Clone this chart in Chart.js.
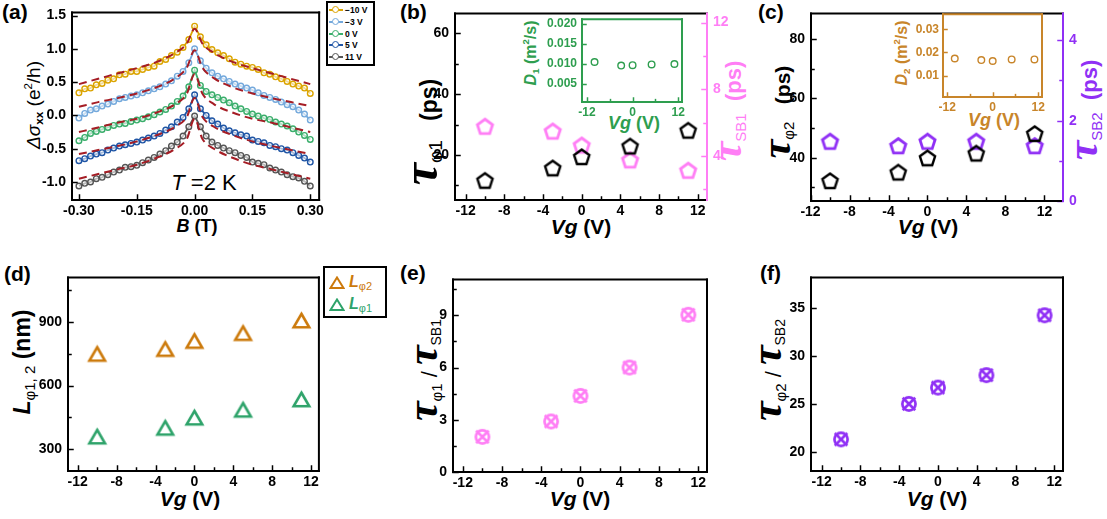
<!DOCTYPE html>
<html>
<head>
<meta charset="utf-8">
<script src="https://cdn.jsdelivr.net/npm/chart.js@4.4.1/dist/chart.umd.min.js"></script>
<style>
  body { margin: 0; background: #fff; }
  #wrap { position: relative; width: 1107px; height: 519px; overflow: hidden; font-family: "Liberation Sans", Arial, sans-serif; }
  canvas { position: absolute; }
  .t { position: absolute; white-space: nowrap; font-weight: bold; line-height: 1; }
  .c { transform: translate(-50%, -50%); }
  .rot { transform: translate(-50%, -50%) rotate(-90deg); }
  .tau { font-family: "Liberation Serif", "DejaVu Serif", serif; font-style: italic; font-weight: bold; font-size: 42px; line-height: 0.6; }
  .sub { font-size: 0.62em; vertical-align: -0.3em; font-weight: normal; }
  .vg { font-style: italic; }
  .box { position: absolute; border: 2px solid #000; box-sizing: border-box; background: #fff; }
</style>
</head>
<body>
<div id="wrap">

  <!-- panel labels -->
  <div class="t" style="left:2px;top:1px;font-size:21px">(a)</div>
  <div class="t" style="left:400px;top:1px;font-size:21px">(b)</div>
  <div class="t" style="left:758px;top:1px;font-size:21px">(c)</div>
  <div class="t" style="left:4px;top:263px;font-size:21px">(d)</div>
  <div class="t" style="left:400px;top:262px;font-size:21px">(e)</div>
  <div class="t" style="left:760px;top:262px;font-size:21px">(f)</div>

  <!-- (a) -->
  <div class="t rot" style="left:34px;top:105px;font-size:19px;font-weight:normal"><i>Δσ</i><span class="sub" style="font-weight:bold">xx</span> (e<sup style="font-size:0.6em">2</sup>/h)</div>
  <div class="t c" style="left:197px;top:226px;font-size:18px"><i>B</i> (T)</div>
  <div class="t c" style="left:204px;top:183px;font-size:22px;font-weight:normal"><i>T</i> =2 K</div>
  <div class="box" style="left:326px;top:1px;width:49px;height:65px">
    <div style="position:absolute;left:1px;top:6px;width:14px;border-top:2px solid #dba400"></div>
    <div style="position:absolute;left:4px;top:3px;width:5px;height:5px;border:1.5px solid #dba400;border-radius:50%;background:#fff"></div>
    <div class="t" style="left:17px;top:3px;font-size:8.5px">−10 V</div>
    <div style="position:absolute;left:1px;top:18px;width:14px;border-top:2px solid #74a9dc"></div>
    <div style="position:absolute;left:4px;top:15px;width:5px;height:5px;border:1.5px solid #74a9dc;border-radius:50%;background:#fff"></div>
    <div class="t" style="left:17px;top:15px;font-size:8.5px">−3 V</div>
    <div style="position:absolute;left:1px;top:30px;width:14px;border-top:2px solid #3aae6b"></div>
    <div style="position:absolute;left:4px;top:27px;width:5px;height:5px;border:1.5px solid #3aae6b;border-radius:50%;background:#fff"></div>
    <div class="t" style="left:17px;top:27px;font-size:8.5px">0 V</div>
    <div style="position:absolute;left:1px;top:41px;width:14px;border-top:2px solid #1f55a5"></div>
    <div style="position:absolute;left:4px;top:38px;width:5px;height:5px;border:1.5px solid #1f55a5;border-radius:50%;background:#fff"></div>
    <div class="t" style="left:17px;top:38px;font-size:8.5px">5 V</div>
    <div style="position:absolute;left:1px;top:53px;width:14px;border-top:2px solid #555"></div>
    <div style="position:absolute;left:4px;top:50px;width:5px;height:5px;border:1.5px solid #555;border-radius:50%;background:#fff"></div>
    <div class="t" style="left:17px;top:50px;font-size:8.5px">11 V</div>
  </div>

  <!-- (b) -->
  <div class="t rot" style="left:425px;top:132px;font-size:23px"><span class="tau" style="font-size:50px">τ</span><span class="sub" style="font-size:19px">φ1</span>&nbsp;&nbsp; (ps)</div>
  <div class="t rot" style="left:731px;top:111px;font-size:22px;color:#ff7ef5"><span class="tau" style="font-size:44px">τ</span><span class="sub" style="font-size:15px">SB1</span>&nbsp; (ps)</div>
  <div class="t c" style="left:581px;top:226px;font-size:21px"><span class="vg">Vg</span> (V)</div>
  <div class="t rot" style="left:531px;top:53px;font-size:16px;color:#2e9e4f"><i>D</i><span class="sub" style="font-weight:bold">1</span> (m<sup style="font-size:0.6em">2</sup>/s)</div>
  <div class="t c" style="left:634px;top:123px;font-size:18px;color:#2e9e4f"><span class="vg">Vg</span> (V)</div>

  <!-- (c) -->
  <div class="t rot" style="left:780px;top:112px;font-size:21px"><span class="tau">τ</span><span class="sub" style="font-size:15px">φ2</span>&nbsp;&nbsp; (ps)</div>
  <div class="t rot" style="left:1087px;top:110px;font-size:22px;color:#9030f5"><span class="tau" style="font-size:44px">τ</span><span class="sub" style="font-size:15px">SB2</span>&nbsp; (ps)</div>
  <div class="t c" style="left:928px;top:226px;font-size:21px"><span class="vg">Vg</span> (V)</div>
  <div class="t rot" style="left:902px;top:53px;font-size:16px;color:#c8852a"><i>D</i><span class="sub" style="font-weight:bold">2</span> (m<sup style="font-size:0.6em">2</sup>/s)</div>
  <div class="t c" style="left:994px;top:120px;font-size:18px;color:#c8852a"><span class="vg">Vg</span> (V)</div>

  <!-- (d) -->
  <div class="t rot" style="left:24px;top:362px;font-size:23px"><i>L</i><span class="sub" style="font-size:15px">φ1, 2</span> (nm)</div>
  <div class="t c" style="left:190px;top:498px;font-size:21px"><span class="vg">Vg</span> (V)</div>
  <div class="box" style="left:323px;top:266px;width:64px;height:52px">
    <svg style="position:absolute;left:4px;top:8px" width="16" height="14"><polygon points="8,1.5 14.5,12 1.5,12" fill="none" stroke="#cc7a0c" stroke-width="2"/></svg>
    <div class="t" style="left:24px;top:6px;font-size:16px;color:#cc7a0c"><i>L</i><span class="sub" style="font-size:11px">φ2</span></div>
    <svg style="position:absolute;left:4px;top:30px" width="16" height="14"><polygon points="8,1.5 14.5,12 1.5,12" fill="none" stroke="#2ea36a" stroke-width="2"/></svg>
    <div class="t" style="left:24px;top:28px;font-size:16px;color:#2ea36a"><i>L</i><span class="sub" style="font-size:11px">φ1</span></div>
  </div>

  <!-- (e) -->
  <div class="t rot" style="left:427px;top:370px;font-size:22px"><span class="tau" style="font-size:44px">τ</span><span class="sub" style="font-size:15px">φ1</span> <span style="font-weight:normal">/</span> <span class="tau" style="font-size:44px">τ</span><span class="sub" style="font-size:14px">SB1</span></div>
  <div class="t c" style="left:580px;top:498px;font-size:21px"><span class="vg">Vg</span> (V)</div>

  <!-- (f) -->
  <div class="t rot" style="left:771px;top:370px;font-size:22px"><span class="tau" style="font-size:44px">τ</span><span class="sub" style="font-size:15px">φ2</span> <span style="font-weight:normal">/</span> <span class="tau" style="font-size:44px">τ</span><span class="sub" style="font-size:14px">SB2</span></div>
  <div class="t c" style="left:937px;top:498px;font-size:21px"><span class="vg">Vg</span> (V)</div>
</div>

<script>
// ---- data ----
// (a) magnetoconductance, B in T
const B = [-0.300,-0.285,-0.270,-0.255,-0.240,-0.225,-0.210,-0.195,-0.180,-0.165,-0.150,-0.135,-0.120,-0.105,-0.090,-0.075,-0.060,-0.045,-0.030,-0.015,0.000,
           0.015,0.030,0.045,0.060,0.075,0.090,0.105,0.120,0.135,0.150,0.165,0.180,0.195,0.210,0.225,0.240,0.255,0.270,0.285,0.300];
const sigM10 = [0.34,0.40,0.41,0.46,0.48,0.53,0.55,0.61,0.62,0.66,0.66,0.69,0.72,0.74,0.81,0.84,0.90,0.95,1.02,1.14,1.34,
                1.18,1.06,0.99,0.94,0.90,0.85,0.80,0.77,0.74,0.72,0.69,0.64,0.62,0.58,0.55,0.51,0.47,0.44,0.41,0.33];
const sigM3 = [-0.04,0.03,0.08,0.10,0.14,0.17,0.21,0.25,0.27,0.29,0.31,0.34,0.37,0.40,0.43,0.47,0.52,0.59,0.66,0.79,1.00,
               0.82,0.71,0.64,0.59,0.55,0.51,0.47,0.44,0.41,0.38,0.34,0.30,0.27,0.24,0.20,0.16,0.13,0.08,0.02,-0.07];
const sig0 = [-0.38,-0.33,-0.27,-0.24,-0.21,-0.18,-0.15,-0.13,-0.12,-0.09,-0.07,-0.05,-0.02,0.01,0.05,0.09,0.14,0.21,0.29,0.43,0.68,
              0.45,0.36,0.31,0.27,0.23,0.19,0.14,0.10,0.06,0.02,-0.01,-0.04,-0.06,-0.10,-0.13,-0.16,-0.20,-0.25,-0.30,-0.36];
const sig5 = [-0.68,-0.65,-0.61,-0.58,-0.56,-0.52,-0.49,-0.46,-0.44,-0.42,-0.40,-0.37,-0.34,-0.31,-0.27,-0.22,-0.17,-0.10,-0.03,0.10,0.31,
              0.10,0.00,-0.08,-0.13,-0.19,-0.23,-0.26,-0.29,-0.31,-0.37,-0.39,-0.41,-0.45,-0.47,-0.50,-0.52,-0.56,-0.60,-0.64,-0.70];
const sig11 = [-1.06,-1.02,-1.00,-0.95,-0.93,-0.89,-0.85,-0.82,-0.78,-0.77,-0.75,-0.71,-0.67,-0.63,-0.58,-0.53,-0.46,-0.40,-0.31,-0.17,-0.01,
               -0.17,-0.31,-0.40,-0.45,-0.49,-0.53,-0.56,-0.60,-0.63,-0.70,-0.72,-0.74,-0.79,-0.82,-0.85,-0.89,-0.92,-0.94,-0.99,-1.06];
const Bfit = [-0.30,-0.25,-0.20,-0.15,-0.10,-0.05,-0.02,0,0.02,0.05,0.10,0.15,0.20,0.25,0.30];
const fitM10 = [0.47,0.55,0.63,0.71,0.80,0.94,1.08,1.30,1.08,0.94,0.80,0.71,0.63,0.55,0.47];
const fitM3 = [0.13,0.20,0.26,0.33,0.42,0.56,0.72,0.98,0.72,0.56,0.42,0.33,0.26,0.20,0.14];
const fit0 = [-0.25,-0.18,-0.11,-0.05,0.04,0.17,0.33,0.62,0.33,0.17,0.04,-0.05,-0.11,-0.18,-0.25];
const fit5 = [-0.58,-0.52,-0.46,-0.39,-0.30,-0.17,-0.02,0.26,-0.02,-0.17,-0.30,-0.39,-0.46,-0.52,-0.58];
const fit11 = [-0.95,-0.88,-0.81,-0.74,-0.64,-0.50,-0.35,-0.05,-0.35,-0.50,-0.64,-0.74,-0.81,-0.88,-0.95];

// gate voltages and fitted parameters
const Vg = [-10, -3, 0, 5, 11];
const tauPhi1 = [11.7, 15.8, 19.5, 23.0, 28.2];
const tauSB1 = [5.79, 5.50, 4.66, 3.77, 3.15];
const D1 = [0.0104, 0.0095, 0.0096, 0.0098, 0.0099];
const tauPhi2 = [32.3, 35.2, 40.0, 41.6, 48.2];
const tauSB2 = [1.49, 1.38, 1.49, 1.49, 1.38];
const D2 = [0.0174, 0.0167, 0.0163, 0.0170, 0.0170];
const Lphi2 = [749, 772, 810, 847, 906];
const Lphi1 = [360, 401, 449, 486, 535];
const ratio1 = [2.02, 2.90, 4.37, 6.00, 9.03];
const ratio2 = [21.3, 25.0, 26.7, 28.0, 34.25];

// tick values
const vgMajor = [-12, -8, -4, 0, 4, 8, 12];
const vgMinor = [-10, -6, -2, 2, 6, 10];

const SANS = '"Liberation Sans", Arial, sans-serif';
const specs = {};

// ---- marker images ----
function pentagon(r, color, lw) {
  const s = Math.ceil(2 * r + lw + 4);
  const c = document.createElement('canvas');
  c.width = c.height = s;
  const g = c.getContext('2d');
  g.strokeStyle = color; g.lineWidth = lw; g.lineJoin = 'miter';
  g.beginPath();
  for (let k = 0; k < 5; k++) {
    const a = -Math.PI / 2 + k * 2 * Math.PI / 5;
    const x = s / 2 + r * Math.cos(a), y = s / 2 + 1 + r * Math.sin(a);
    k ? g.lineTo(x, y) : g.moveTo(x, y);
  }
  g.closePath(); g.stroke();
  return c;
}
function triangle(r, color, lw) {
  const s = Math.ceil(2 * r + lw + 4);
  const c = document.createElement('canvas');
  c.width = c.height = s;
  const g = c.getContext('2d');
  g.strokeStyle = color; g.lineWidth = lw;
  g.beginPath();
  for (let k = 0; k < 3; k++) {
    const a = -Math.PI / 2 + k * 2 * Math.PI / 3;
    const x = s / 2 + r * Math.cos(a), y = s / 2 + r * 0.25 + r * Math.sin(a);
    k ? g.lineTo(x, y) : g.moveTo(x, y);
  }
  g.closePath(); g.stroke();
  return c;
}
function otimes(r, color, lw) {
  const s = Math.ceil(2 * r + lw + 6);
  const c = document.createElement('canvas');
  c.width = c.height = s;
  const g = c.getContext('2d');
  g.strokeStyle = color; g.lineWidth = lw;
  g.beginPath(); g.arc(s / 2, s / 2, r, 0, 2 * Math.PI); g.stroke();
  const d = r * 0.95;
  g.beginPath();
  g.moveTo(s / 2 - d, s / 2 - d); g.lineTo(s / 2 + d, s / 2 + d);
  g.moveTo(s / 2 + d, s / 2 - d); g.lineTo(s / 2 - d, s / 2 + d);
  g.stroke();
  return c;
}

// frame + inward ticks
const framePlugin = {
  id: 'frame',
  afterDraw(chart) {
    const sp = specs[chart.canvas.id];
    if (!sp) return;
    const { left, right, top, bottom } = chart.chartArea;
    const g = chart.ctx;
    g.save();
    g.lineCap = 'square';
    for (const id in sp.axes) {
      const a = sp.axes[id], sc = chart.scales[id];
      g.strokeStyle = a.color; g.lineWidth = 1.5;
      [[a.maj, sp.tl], [a.min || [], sp.tl * 0.6]].forEach(([vals, len]) => vals.forEach(v => {
        const p = Math.round(sc.getPixelForValue(v)) + 0.5;
        g.beginPath();
        if (a.side === 'bottom') { g.moveTo(p, bottom); g.lineTo(p, bottom - len); }
        else if (a.side === 'left') { g.moveTo(left, p); g.lineTo(left + len, p); }
        else { g.moveTo(right, p); g.lineTo(right - len, p); }
        g.stroke();
      }));
    }
    g.lineWidth = sp.lw;
    const edge = (x1, y1, x2, y2, c) => { g.strokeStyle = c; g.beginPath(); g.moveTo(x1, y1); g.lineTo(x2, y2); g.stroke(); };
    edge(left, top, right, top, sp.color);
    edge(left, bottom, right, bottom, sp.color);
    edge(left, top, left, bottom, sp.color);
    edge(right, top, right, bottom, sp.rightColor || sp.color);
    g.restore();
  }
};
Chart.register(framePlugin);

function axis(pos, min, max, majors, fmt, color, size, fixed, pad) {
  return {
    type: 'linear', position: pos, min: min, max: max,
    grid: { display: false, drawTicks: false },
    border: { display: false },
    afterBuildTicks: s => { s.ticks = majors.map(v => ({ value: v })); },
    afterFit: s => { if (pos === 'bottom') s.height = fixed; else s.width = fixed; },
    ticks: {
      color: color, autoSkip: false, maxRotation: 0,
      padding: pad !== undefined ? pad : (pos === 'bottom' ? 3 : 6),
      font: { family: SANS, size: size, weight: 'bold' },
      callback: v => fmt(v)
    }
  };
}

function makeChart(id, box, yW, xH, rW, datasets, scales, spec) {
  const cv = document.createElement('canvas');
  cv.id = id;
  const padR = rW ? 0 : 3;
  const w = (box.r - box.l) + yW + (rW || 0) + padR;
  const h = (box.b - box.t) + xH + 3;
  cv.width = w; cv.height = h;
  cv.style.left = (box.l - yW) + 'px';
  cv.style.top = (box.t - 3) + 'px';
  cv.style.width = w + 'px'; cv.style.height = h + 'px';
  document.getElementById('wrap').appendChild(cv);
  specs[id] = spec;
  return new Chart(cv, {
    type: 'scatter',
    data: { datasets: datasets },
    options: {
      responsive: false, animation: false, devicePixelRatio: 1,
      layout: { padding: { top: 3, right: padR, left: 0, bottom: 0 }, autoPadding: false },
      plugins: { legend: { display: false }, tooltip: { enabled: false } },
      scales: scales
    }
  });
}

const pts = (xs, ys) => xs.map((x, i) => ({ x: x, y: ys[i] }));
const int = v => String(v);

// ---- (a) ----
const curveColors = ['#dba400', '#74a9dc', '#3aae6b', '#1f55a5', '#555555'];
const curves = [sigM10, sigM3, sig0, sig5, sig11];
const fits = [fitM10, fitM3, fit0, fit5, fit11];
const dsA = [];
curves.forEach((ys, i) => dsA.push({
  data: pts(B, ys), showLine: true, borderColor: curveColors[i], borderWidth: 1.8,
  pointStyle: 'circle', pointRadius: 2.8, pointBorderWidth: 1.4,
  pointBorderColor: curveColors[i], pointBackgroundColor: 'rgba(255,255,255,0.6)', order: 1 + i
}));
fits.forEach(ys => dsA.push({
  data: pts(Bfit, ys), showLine: true, borderColor: '#a51d25', borderWidth: 2,
  borderDash: [8, 5], pointRadius: 0, cubicInterpolationMode: 'monotone', order: 0
}));
makeChart('pa', { l: 72, t: 1, r: 324, b: 200 }, 42, 24, 0, dsA, {
  x: axis('bottom', -0.318, 0.323, [-0.30, -0.15, 0, 0.15, 0.30], v => v.toFixed(2), '#000', 14, 24),
  y: axis('left', -1.27, 1.547, [-1.0, -0.5, 0, 0.5, 1.0, 1.5], v => v.toFixed(1), '#000', 14, 42)
}, { lw: 2, tl: 5, color: '#000', axes: {
  x: { side: 'bottom', maj: [-0.30, -0.15, 0, 0.15, 0.30], color: '#000' },
  y: { side: 'left', maj: [-1.0, -0.5, 0, 0.5, 1.0, 1.5], color: '#000' } } });

// ---- (b) ----
const PINK = '#ff7ef5';
makeChart('pb', { l: 455, t: 2, r: 707, b: 200 }, 36, 24, 30, [
  { data: pts(Vg, tauPhi1), pointStyle: pentagon(8, '#000', 2.4), pointRadius: 8, yAxisID: 'y' },
  { data: pts(Vg, tauSB1), pointStyle: pentagon(8, PINK, 2.8), pointRadius: 8, yAxisID: 'y2' }
], {
  x: axis('bottom', -13.1, 12.95, vgMajor, int, '#000', 14, 24),
  y: axis('left', 5.2, 66.6, [20, 40, 60], int, '#000', 14, 36),
  y2: axis('right', 1.36, 12.55, [4, 8, 12], int, PINK, 14, 30)
}, { lw: 2, tl: 5, color: '#000', rightColor: PINK, axes: {
  x: { side: 'bottom', maj: vgMajor, min: vgMinor, color: '#000' },
  y: { side: 'left', maj: [20, 40, 60], min: [10, 30, 50], color: '#000' },
  y2: { side: 'right', maj: [4, 8, 12], min: [2, 6, 10], color: PINK } } });

const GRN = '#2e9e4f';
makeChart('pbi', { l: 582, t: 10, r: 685, b: 102 }, 46, 18, 0, [
  { data: pts(Vg, D1), pointStyle: 'circle', pointRadius: 3.3, pointBorderWidth: 1.4, pointBorderColor: GRN, pointBackgroundColor: 'rgba(0,0,0,0)' }
], {
  x: axis('bottom', -13.3, 13.0, [-12, 0, 12], int, GRN, 12, 18),
  y: axis('left', 0.0004, 0.0211, [0.005, 0.010, 0.015, 0.020], v => v.toFixed(3), GRN, 12, 46, 5)
}, { lw: 2, tl: 4, color: GRN, axes: {
  x: { side: 'bottom', maj: [-12, 0, 12], min: [-6, 6], color: GRN },
  y: { side: 'left', maj: [0.005, 0.010, 0.015, 0.020], color: GRN } } });

// ---- (c) ----
const PURP = '#9030f5';
makeChart('pc', { l: 811, t: 2, r: 1063, b: 201 }, 36, 24, 30, [
  { data: pts(Vg, tauPhi2), pointStyle: pentagon(8, '#000', 2.4), pointRadius: 8, yAxisID: 'y' },
  { data: pts(Vg, tauSB2), pointStyle: pentagon(8, PURP, 2.8), pointRadius: 8, yAxisID: 'y2' }
], {
  x: axis('bottom', -11.95, 13.9, vgMajor, int, '#000', 14, 24),
  y: axis('left', 25.4, 88.7, [40, 60, 80], int, '#000', 14, 36),
  y2: axis('right', 0, 4.67, [0, 2, 4], int, PURP, 14, 30)
}, { lw: 2, tl: 5, color: '#000', rightColor: PURP, axes: {
  x: { side: 'bottom', maj: vgMajor, min: vgMinor, color: '#000' },
  y: { side: 'left', maj: [40, 60, 80], min: [30, 50, 70], color: '#000' },
  y2: { side: 'right', maj: [0, 2, 4], min: [1, 3], color: PURP } } });

const BRN = '#c8852a';
makeChart('pci', { l: 943, t: 6, r: 1045, b: 97 }, 40, 18, 0, [
  { data: pts(Vg, D2), pointStyle: 'circle', pointRadius: 3.3, pointBorderWidth: 1.4, pointBorderColor: BRN, pointBackgroundColor: 'rgba(0,0,0,0)' }
], {
  x: axis('bottom', -13.1, 13.0, [-12, 0, 12], int, BRN, 12, 18),
  y: axis('left', 0.0007, 0.0366, [0.01, 0.02, 0.03], v => v.toFixed(2), BRN, 12, 40, 4)
}, { lw: 2, tl: 4, color: BRN, axes: {
  x: { side: 'bottom', maj: [-12, 0, 12], min: [-6, 6], color: BRN },
  y: { side: 'left', maj: [0.01, 0.02, 0.03], color: BRN } } });

// ---- (d) ----
const ORG = '#cc7a0c', GRN2 = '#2ea36a';
makeChart('pd', { l: 68, t: 266, r: 319, b: 471 }, 40, 24, 0, [
  { data: pts(Vg, Lphi2), pointStyle: triangle(9, ORG, 2.6), pointRadius: 9 },
  { data: pts(Vg, Lphi1), pointStyle: triangle(9, GRN2, 2.6), pointRadius: 9 }
], {
  x: axis('bottom', -13.0, 12.8, vgMajor, int, '#000', 14, 24),
  y: axis('left', 198, 1109, [300, 600, 900], int, '#000', 14, 40)
}, { lw: 2, tl: 5, color: '#000', axes: {
  x: { side: 'bottom', maj: vgMajor, min: vgMinor, color: '#000' },
  y: { side: 'left', maj: [300, 600, 900], min: [450, 750, 1050], color: '#000' } } });

// ---- (e) ----
makeChart('pe', { l: 453, t: 268, r: 707, b: 472 }, 34, 24, 0, [
  { data: pts(Vg, ratio1), pointStyle: otimes(6.6, PINK, 2.7), pointRadius: 8 }
], {
  x: axis('bottom', -13.0, 12.9, vgMajor, int, '#000', 14, 24),
  y: axis('left', 0, 11.06, [0, 3, 6, 9], int, '#000', 14, 34)
}, { lw: 2, tl: 5, color: '#000', axes: {
  x: { side: 'bottom', maj: vgMajor, min: vgMinor, color: '#000' },
  y: { side: 'left', maj: [0, 3, 6, 9], min: [1.5, 4.5, 7.5, 10.5], color: '#000' } } });

// ---- (f) ----
makeChart('pf', { l: 811, t: 266, r: 1063, b: 471 }, 40, 24, 0, [
  { data: pts(Vg, ratio2), pointStyle: otimes(6.6, PURP, 2.7), pointRadius: 8 }
], {
  x: axis('bottom', -13.1, 12.9, vgMajor, int, '#000', 14, 24),
  y: axis('left', 18.0, 38.2, [20, 25, 30, 35], int, '#000', 14, 40)
}, { lw: 2, tl: 5, color: '#000', axes: {
  x: { side: 'bottom', maj: vgMajor, min: vgMinor, color: '#000' },
  y: { side: 'left', maj: [20, 25, 30, 35], color: '#000' } } });
</script>
</body>
</html>
